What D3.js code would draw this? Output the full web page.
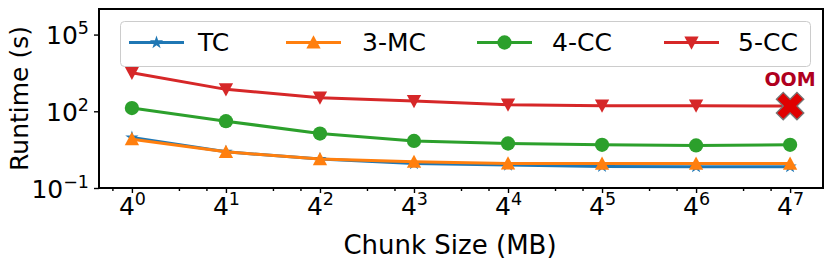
<!DOCTYPE html>
<html>
<head>
<meta charset="utf-8">
<script src="https://cdn.jsdelivr.net/npm/d3@7"></script>
<style>
  html, body { margin: 0; padding: 0; background: #fff; }
  text { font-family: "DejaVu Sans", sans-serif; fill: #000; }
</style>
</head>
<body>
<div id="chart"></div>
<script>
// chunk sizes in MB (4^0 .. 4^7)
const exponents = [0, 1, 2, 3, 4, 5, 6, 7];
const chunkSizes = exponents.map(e => Math.pow(4, e));

// runtimes in seconds
const tcRuntime  = [9.4, 2.6, 1.35, 0.9, 0.79, 0.7, 0.68, 0.68];
const mc3Runtime = [8.1, 2.6, 1.35, 1.06, 0.91, 0.9, 0.9, 0.9];
const cc4Runtime = [134, 41, 13.5, 6.9, 5.5, 4.9, 4.6, 4.9];
const cc5Runtime = [3200, 720, 340, 250, 182, 166, 166, 160];
const cc5Oom     = [false, false, false, false, false, false, false, true];

const yTickExps = [-1, 2, 5];

const seriesNames = ['TC', '3-MC', '4-CC', '5-CC'];

(function () {
  const W = 831, H = 265;
  const margin = { top: 9, right: 8, bottom: 77, left: 99 };
  const width  = W - margin.left - margin.right;
  const height = H - margin.top - margin.bottom;

  const svg = d3.select('#chart')
    .append('svg')
    .attr('width', W)
    .attr('height', H)
    .attr('viewBox', [0, 0, W, H]);

  const g = svg.append('g')
    .attr('transform', `translate(${margin.left},${margin.top})`);

  /* ─── scales ─────────────────────────────────────────── */
  const x = d3.scaleLog().base(4)
    .domain([Math.pow(4, -0.35), Math.pow(4, 7.35)])
    .range([0, width]);

  const y = d3.scaleLog()
    .domain([0.1, 1e6])
    .range([height, 0]);

  /* ─── marker shapes (matplotlib‑like) ─────────────────── */
  const triUp = {
    draw(ctx, size) {
      const s = Math.sqrt(size) * 0.8;
      ctx.moveTo(0, -s); ctx.lineTo(-s, s * 0.85); ctx.lineTo(s, s * 0.85); ctx.closePath();
    }
  };
  const triDown = {
    draw(ctx, size) {
      const s = Math.sqrt(size) * 0.8;
      ctx.moveTo(0, s); ctx.lineTo(-s, -s * 0.85); ctx.lineTo(s, -s * 0.85); ctx.closePath();
    }
  };

  const series = [
    { name: seriesNames[0], values: tcRuntime,  color: '#1f77b4', type: d3.symbolStar,   size: 55 },
    { name: seriesNames[1], values: mc3Runtime, color: '#ff7f0e', type: triUp,           size: 80 },
    { name: seriesNames[2], values: cc4Runtime, color: '#2ca02c', type: d3.symbolCircle, size: 160 },
    { name: seriesNames[3], values: cc5Runtime, color: '#d62728', type: triDown,         size: 80, oom: cc5Oom }
  ];

  /* ─── axes ───────────────────────────────────────────── */
  const xMajor = g.append('g')
    .attr('class', 'x-axis')
    .attr('transform', `translate(0,${height})`)
    .call(d3.axisBottom(x).tickValues(chunkSizes).tickSize(5).tickFormat(''));

  const minorVals = [];
  d3.range(-1, 8).forEach(k => [2, 3].forEach(m => {
    const v = m * Math.pow(4, k);
    if (v > x.domain()[0] && v < x.domain()[1]) minorVals.push(v);
  }));
  g.append('g')
    .attr('class', 'x-minor')
    .attr('transform', `translate(0,${height})`)
    .call(d3.axisBottom(x).tickValues(minorVals).tickSize(3).tickFormat(''));

  const yAxis = g.append('g')
    .attr('class', 'y-axis')
    .call(d3.axisLeft(y).tickValues(yTickExps.map(e => Math.pow(10, e))).tickSize(5).tickFormat(''));

  g.selectAll('.x-axis path, .x-minor path, .y-axis path').remove();
  g.selectAll('.tick line').attr('stroke', '#000').attr('stroke-width', 1.4);

  // tick labels with superscripts
  xMajor.selectAll('.tick').each(function (d, i) {
    const t = d3.select(this).append('text')
      .attr('y', 27)
      .attr('text-anchor', 'middle')
      .style('font-size', '25px');
    t.append('tspan').text('4');
    t.append('tspan').attr('dy', -10).style('font-size', '17.5px').text(exponents[i]);
  });

  yAxis.selectAll('.tick').each(function (d, i) {
    const e = yTickExps[i];
    const t = d3.select(this).append('text')
      .attr('x', -10)
      .attr('y', 9)
      .attr('text-anchor', 'end')
      .style('font-size', '25px');
    t.append('tspan').text('10');
    t.append('tspan').attr('dy', -10).style('font-size', '17.5px').text(e < 0 ? '\u2212' + Math.abs(e) : e);
  });

  /* ─── lines & markers ─────────────────────────────────── */
  const line = d3.line()
    .x((d, i) => x(chunkSizes[i]))
    .y(d => y(d));

  series.forEach(s => {
    g.append('path')
      .datum(s.values)
      .attr('fill', 'none')
      .attr('stroke', s.color)
      .attr('stroke-width', 3)
      .attr('stroke-linejoin', 'round')
      .attr('d', line);

    const sym = d3.symbol().type(s.type).size(s.size);
    g.selectAll(null)
      .data(s.values.map((v, i) => ({ v, i })).filter(d => !(s.oom && s.oom[d.i])))
      .join('path')
      .attr('transform', d => `translate(${x(chunkSizes[d.i])},${y(d.v)})`)
      .attr('fill', s.color)
      .attr('d', sym);
  });

  // OOM marker
  const oomPts = cc5Runtime.map((v, i) => ({ v, i })).filter(d => cc5Oom[d.i]);
  g.selectAll(null)
    .data(oomPts)
    .join('path')
    .attr('transform', d => `translate(${x(chunkSizes[d.i])},${y(d.v)}) rotate(45)`)
    .attr('fill', '#e00000')
    .attr('stroke', '#777')
    .attr('stroke-width', 1.3)
    .attr('d', d3.symbol().type(d3.symbolCross).size(470));

  g.selectAll(null)
    .data(oomPts)
    .join('text')
    .attr('x', d => x(chunkSizes[d.i]))
    .attr('y', d => y(d.v) - 20)
    .attr('text-anchor', 'middle')
    .style('font-size', '19px')
    .style('font-weight', 'bold')
    .style('fill', '#b0001e')
    .text('OOM');

  /* ─── frame ──────────────────────────────────────────── */
  g.append('rect')
    .attr('width', width)
    .attr('height', height)
    .attr('fill', 'none')
    .attr('stroke', '#000')
    .attr('stroke-width', 2);

  /* ─── legend ─────────────────────────────────────────── */
  const legend = svg.append('g').attr('class', 'legend');
  legend.append('rect')
    .attr('x', 120.5).attr('y', 21.5)
    .attr('width', 690).attr('height', 45)
    .attr('rx', 4)
    .attr('fill', 'rgba(255,255,255,0.8)')
    .attr('stroke', '#cccccc')
    .attr('stroke-width', 1);

  const handleX = [129, 286, 477, 664];
  const textX   = [198, 362, 552, 738];
  series.forEach((s, i) => {
    const le = legend.append('g');
    le.append('line')
      .attr('x1', handleX[i]).attr('x2', handleX[i] + 55)
      .attr('y1', 42.5).attr('y2', 42.5)
      .attr('stroke', s.color).attr('stroke-width', 3);
    le.append('path')
      .attr('transform', `translate(${handleX[i] + 27.5},42.5)`)
      .attr('fill', s.color)
      .attr('d', d3.symbol().type(s.type).size(s.size));
    le.append('text')
      .attr('x', textX[i]).attr('y', 51)
      .style('font-size', '25px')
      .text(s.name);
  });

  /* ─── axis labels ────────────────────────────────────── */
  svg.append('text')
    .attr('transform', `translate(28,${margin.top + height / 2}) rotate(-90)`)
    .attr('text-anchor', 'middle')
    .style('font-size', '25px')
    .text('Runtime (s)');

  svg.append('text')
    .attr('x', 450)
    .attr('y', 254)
    .attr('text-anchor', 'middle')
    .style('font-size', '26px')
    .text('Chunk Size (MB)');
})();
</script>
</body>
</html>
